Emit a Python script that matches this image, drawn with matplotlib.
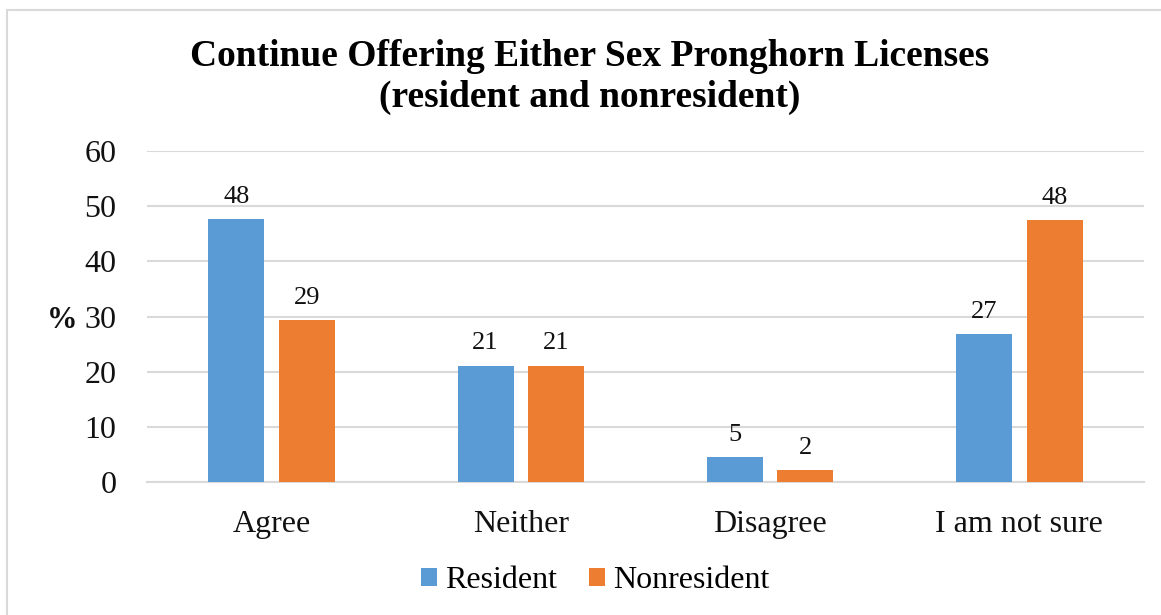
import matplotlib
matplotlib.use("Agg")
import matplotlib.pyplot as plt
from matplotlib.patches import Rectangle
import numpy as np

categories = ["Agree", "Neither", "Disagree", "I am not sure"]
resident = [47.7, 21.1, 4.6, 26.8]
nonresident = [29.3, 21.1, 2.2, 47.5]
series_names = ["Resident", "Nonresident"]
y_ticks = [0, 10, 20, 30, 40, 50, 60]

plt.rcParams["font.family"] = ["Liberation Serif", "DejaVu Serif"]

fig = plt.figure(figsize=(11.61, 6.15), dpi=100)
ax = fig.add_axes([147 / 1161, 1 - 482 / 615, (1144 - 147) / 1161, (482 - 151) / 615])

# chart border
fig.patches.append(Rectangle((7 / 1161, -0.05), 1.2, 1 - 10 / 615 + 0.05,
                             transform=fig.transFigure, fill=False,
                             edgecolor="#d9d9d9", linewidth=1.5, zorder=0))

x = np.arange(len(categories))
width = 0.225
offset = 0.1415
colors = ["#5B9BD5", "#ED7D31"]

for vals, dx, col, name in [(resident, -offset, colors[0], series_names[0]),
                            (nonresident, offset, colors[1], series_names[1])]:
    bars = ax.bar(x + dx, vals, width, color=col, label=name, zorder=3)
    for b, v in zip(bars, vals):
        ax.annotate(f"{v:.0f}", (b.get_x() + b.get_width() / 2, v),
                    xytext=(0, 8), textcoords="offset points",
                    ha="center", va="bottom", fontsize=19, color="#111111")

ax.set_xlim(-0.5, len(categories) - 0.5)
ax.set_ylim(0, 60)
ax.set_yticks(y_ticks)
ax.set_xticks(x)
ax.set_xticklabels(categories)
ax.tick_params(axis="both", length=0, labelsize=23, colors="#111111")
ax.tick_params(axis="x", pad=20)
ax.tick_params(axis="y", pad=22)
ax.grid(axis="y", color="#d9d9d9", linewidth=1.5, zorder=0)
ax.set_axisbelow(True)
for s in ["top", "right", "left"]:
    ax.spines[s].set_visible(False)
ax.spines["bottom"].set_color("#d9d9d9")
ax.spines["bottom"].set_linewidth(1.5)

fig.text(62 / 1161, 1 - 320 / 615, "%", fontsize=22, fontweight="bold",
         ha="center", va="center", color="#111111")

fig.text(590 / 1161, 1 - 77 / 615,
         "Continue Offering Either Sex Pronghorn Licenses\n(resident and nonresident)",
         ha="center", va="center", fontsize=27, fontweight="bold",
         linespacing=1.25, color="#000000")

fig.legend(loc="center", bbox_to_anchor=(595 / 1161, 1 - 581 / 615), ncol=2,
           frameon=False, fontsize=23, handlelength=0.5, handleheight=0.5,
           handletextpad=0.25, columnspacing=1.0)

fig.savefig("out.png", dpi=100)
